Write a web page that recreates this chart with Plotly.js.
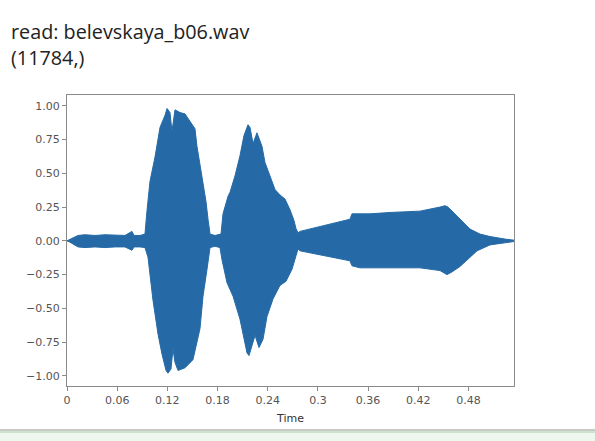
<!DOCTYPE html>
<html>
<head>
<meta charset="utf-8">
<script src="https://cdn.plot.ly/plotly-3.0.1.min.js"></script>
<style>html,body{margin:0;padding:0;background:#fff;}#chart{width:595px;height:441px;}</style>
</head>
<body>
<div id="chart"></div>
<script>
// Upper envelope of the waveform (time in s, amplitude)
const upperTime = [0,0.0036,0.0084,0.0132,0.0215,0.0335,0.0454,0.0574,0.0693,0.0777,0.0801,0.0873,0.0932,0.0956,0.0992,0.1052,0.1112,0.1172,0.1196,0.1231,0.1255,0.1291,0.1351,0.1411,0.1470,0.1530,0.1554,0.1590,0.1626,0.1662,0.1686,0.1710,0.1769,0.1841,0.1865,0.1925,0.1949,0.2008,0.2068,0.2116,0.2164,0.2188,0.2224,0.2271,0.2331,0.2367,0.2427,0.2487,0.2546,0.2606,0.2666,0.2714,0.2738,0.2762,0.2786,0.3383,0.3407,0.3622,0.3862,0.4220,0.4459,0.4519,0.4555,0.4603,0.4698,0.4818,0.4937,0.5057,0.5236,0.5344];
const upperAmp  = [0,0.01,0.025,0.04,0.045,0.04,0.045,0.04,0.04,0.07,0.04,0.04,0.05,0.22,0.44,0.62,0.84,0.93,0.98,0.95,0.81,0.97,0.95,0.94,0.89,0.83,0.70,0.56,0.43,0.29,0.16,0.05,0.04,0.05,0.2,0.33,0.36,0.48,0.63,0.78,0.86,0.84,0.72,0.80,0.70,0.58,0.48,0.38,0.34,0.31,0.23,0.15,0.09,0.06,0.07,0.16,0.20,0.20,0.21,0.22,0.25,0.26,0.25,0.22,0.16,0.087,0.05,0.032,0.013,0.005];
// Lower envelope
const lowerTime = [0,0.0036,0.0084,0.0132,0.0215,0.0335,0.0454,0.0574,0.0693,0.0777,0.0801,0.0873,0.0932,0.0968,0.1028,0.1088,0.1136,0.1184,0.1207,0.1243,0.1267,0.1291,0.1327,0.1411,0.1506,0.1590,0.1626,0.1674,0.1710,0.1769,0.1829,0.1853,0.1913,0.1985,0.2068,0.2152,0.2176,0.2212,0.2248,0.2295,0.2343,0.2391,0.2463,0.2546,0.2618,0.2690,0.2738,0.2762,0.2786,0.3383,0.3407,0.3503,0.3981,0.4220,0.4459,0.4543,0.4603,0.4698,0.4758,0.4818,0.4902,0.5057,0.5236,0.5344];
const lowerAmp  = [0,-0.01,-0.025,-0.045,-0.05,-0.045,-0.05,-0.045,-0.045,-0.07,-0.045,-0.045,-0.05,-0.12,-0.44,-0.69,-0.84,-0.96,-0.98,-0.95,-0.80,-0.90,-0.96,-0.94,-0.88,-0.65,-0.41,-0.21,-0.05,-0.04,-0.05,-0.14,-0.31,-0.41,-0.58,-0.83,-0.85,-0.78,-0.70,-0.79,-0.73,-0.56,-0.43,-0.33,-0.30,-0.21,-0.11,-0.06,-0.074,-0.148,-0.185,-0.20,-0.20,-0.20,-0.22,-0.25,-0.23,-0.19,-0.16,-0.12,-0.074,-0.03,-0.013,-0.005];

const xTickVals = [0,0.06,0.12,0.18,0.24,0.3,0.36,0.42,0.48];
const xTickText = ['0','0.06','0.12','0.18','0.24','0.3','0.36','0.42','0.48'];
const yTickVals = [-1,-0.75,-0.5,-0.25,0,0.25,0.5,0.75,1];

const headerLines = ['read: belevskaya_b06.wav', '(11784,)'];

const polyX = upperTime.concat(lowerTime.slice().reverse());
const polyY = upperAmp.concat(lowerAmp.slice().reverse());

const blue = '#256aa7';
const trace = {
  x: polyX, y: polyY, type: 'scatter', mode: 'lines',
  fill: 'toself', fillcolor: blue,
  line: {color: blue, width: 1},
  hoverinfo: 'skip', showlegend: false
};

// plot area in pixels: left 67, right 514, top 95, bottom 386
const plotTop = 95, plotBottom = 386, plotH = plotBottom - plotTop;
function py(p) { return (plotBottom - p) / plotH; }
function px(p) { return (p - 67) / (514 - 67); }

const axisColor = '#8a8a8a';
const layout = {
  width: 595, height: 441,
  margin: {l: 67, r: 81, t: 95, b: 55},
  paper_bgcolor: '#ffffff', plot_bgcolor: '#ffffff',
  font: {family: 'DejaVu Sans, sans-serif', color: '#444', size: 11},
  showlegend: false,
  xaxis: {
    range: [0, 0.5344], tickmode: 'array', tickvals: xTickVals, ticktext: xTickText,
    showgrid: false, zeroline: false, showline: true, mirror: true,
    linecolor: axisColor, linewidth: 1, ticks: 'outside', ticklen: 4, tickcolor: axisColor,
    tickfont: {size: 11, color: '#555', family: 'DejaVu Sans, sans-serif'},
    title: {text: 'Time', font: {size: 11, color: '#333'}, standoff: 8}
  },
  yaxis: {
    range: [-1.075, 1.08], tickmode: 'array', tickvals: yTickVals, tickformat: '.2f',
    showgrid: false, zeroline: false, showline: true, mirror: true,
    linecolor: axisColor, linewidth: 1, ticks: 'outside', ticklen: 4, tickcolor: axisColor,
    tickfont: {size: 11, color: '#555', family: 'DejaVu Sans, sans-serif'}
  },
  annotations: [{
    text: headerLines.join('<br>'), xref: 'paper', yref: 'paper', x: px(9), y: py(16),
    xanchor: 'left', yanchor: 'top', align: 'left', showarrow: false,
    font: {family: 'Open Sans, Noto Sans, sans-serif', size: 19.8, color: '#222'}
  }],
  shapes: [
    {type: 'rect', xref: 'paper', yref: 'paper', x0: px(0), x1: px(595), y0: py(441), y1: py(431),
     fillcolor: '#eef8ee', line: {width: 0}, layer: 'below'},
    {type: 'line', xref: 'paper', yref: 'paper', x0: px(0), x1: px(595), y0: py(430), y1: py(430),
     line: {color: '#c8c8c8', width: 2}},
    {type: 'line', xref: 'paper', yref: 'paper', x0: px(0), x1: px(595), y0: py(432), y1: py(432),
     line: {color: '#a9cfa9', width: 1}}
  ]
};

Plotly.newPlot('chart', [trace], layout, {displayModeBar: false, staticPlot: true});
</script>
</body>
</html>
